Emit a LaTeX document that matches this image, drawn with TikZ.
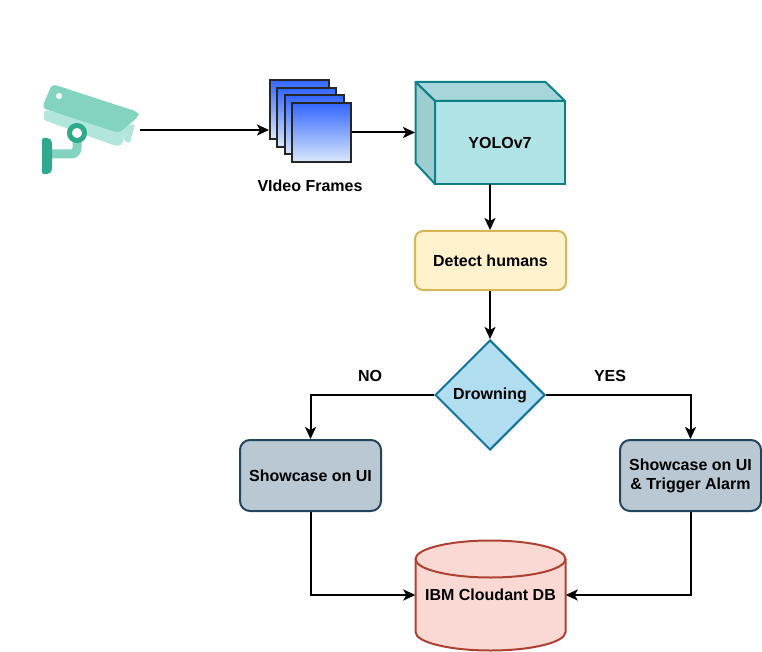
\documentclass[tikz,border=0pt]{standalone}
\usepackage{fontspec}
\setmainfont{Liberation Sans}
\usetikzlibrary{arrows.meta,shapes.geometric,positioning}
\definecolor{camlight}{HTML}{B2E5DB}
\definecolor{cammid}{HTML}{82D3C0}
\definecolor{camdark}{HTML}{2FA88C}
\definecolor{yolofill}{HTML}{B0E3E6}
\definecolor{yololine}{HTML}{0E8088}
\definecolor{yolotop}{HTML}{A6D6D9}
\definecolor{yololeft}{HTML}{9ECDD0}
\definecolor{detfill}{HTML}{FFF2CC}
\definecolor{detline}{HTML}{D6B656}
\definecolor{dimfill}{HTML}{B1DDF0}
\definecolor{dimline}{HTML}{10739E}
\definecolor{uifill}{HTML}{BAC8D3}
\definecolor{uiline}{HTML}{23445D}
\definecolor{dbfill}{HTML}{FAD9D5}
\definecolor{dbline}{HTML}{AE4132}
\definecolor{frtop}{HTML}{3366FF}
\definecolor{frbot}{HTML}{DAE8FC}
\tikzset{
  x=1pt,y=-1pt,
  lbl/.style={font=\fontsize{16}{19}\selectfont\bfseries,text=black,align=center,inner sep=0pt},
  uibox/.style={draw=uiline,fill=uifill,line width=2pt,rounded corners=10pt,minimum width=141pt,minimum height=71pt,inner sep=0pt,lbl},
  frame/.style={draw=black!85,line width=2pt,top color=frtop,bottom color=frbot,minimum width=59pt,minimum height=59pt,inner sep=0pt},
  conn/.style={draw=black,line width=2pt,-{Stealth[length=12pt,width=11pt,inset=3pt]}},
}
\begin{document}
\begin{tikzpicture}
\useasboundingbox (0,0) rectangle (762,652);
% camera
\fill[camlight,rounded corners=1.5pt] (124,126) -- (135,124) -- (130,143) -- (124,141) -- cycle;
\fill[camlight,rounded corners=3pt] (44,110) -- (43.5,120) -- (116,146) -- (122,145) -- (126,125) -- cycle;
\fill[cammid,rounded corners=4pt] (52,84) -- (138,112) -- (139,116) -- (119,133) -- (42,108) -- cycle;
\fill[white] (59,96) circle (3pt);
\draw[cammid,line width=9pt,rounded corners=6pt] (77,134) -- (77,154) -- (50,154);
\fill[camdark,rounded corners=2pt] (42,138) -- (49,138) -- (52,141) -- (52,171) -- (49,174) -- (42,174) -- cycle;
\draw[camdark,line width=5pt,fill=white] (77,133) circle (7.5pt);
\node[minimum width=98pt,minimum height=92pt,inner sep=0pt] (cam) at (90,128) {};
% video frames
\node[frame] (f1) at (299.5,109.5) {};
\node[frame] (f2) at (306.5,117.5) {};
\node[frame] (f3) at (314,125) {};
\node[frame] (f4) at (321.5,132.5) {};
\node[lbl] (vf) at (310,185.5) {VIdeo Frames};
% cube
\node[draw=yololine,fill=yolofill,line width=2pt,minimum width=130pt,minimum height=83pt,inner sep=0pt,lbl] (yolo) at (500,142.5) {YOLOv7};
\path[draw=yololine,fill=yolotop,line width=2pt,line join=round] (415.5,82) -- (545.5,82) -- (565,101) -- (435,101) -- cycle;
\path[draw=yololine,fill=yololeft,line width=2pt,line join=round] (415.5,82) -- (435,101) -- (435,184) -- (415.5,163) -- cycle;
\coordinate (yoloL) at (415,132.5);
\coordinate (yoloB) at (490,184);
% detect
\node[draw=detline,fill=detfill,line width=2pt,rounded corners=8pt,minimum width=151pt,minimum height=59pt,inner sep=0pt,lbl] (det) at (490.5,260.5) {Detect humans};
% diamond
\node[diamond,aspect=1,draw=dimline,fill=dimfill,line width=2pt,minimum width=110pt,minimum height=110pt,inner sep=0pt] (dr) at (490,395) {};
\node[lbl] (drt) at (490,395.5) {Drowning};
% ui
\node[uibox] (uil) at (310.5,475.5) {Showcase on UI};
\node[uibox] (uir) at (690.5,475.5) {Showcase on UI\\\&\ Trigger Alarm};
% db
\path[draw=dbline,fill=dbfill,line width=2pt] (415.5,559) -- (415.5,632) arc[start angle=180,end angle=360,x radius=75,y radius=-18.5] -- (565.5,559) arc[start angle=0,end angle=180,x radius=75,y radius=-18.5] -- cycle;
\path[draw=dbline,line width=2pt] (415.5,559) arc[start angle=180,end angle=360,x radius=75,y radius=-18.5];
\node[minimum width=150pt,minimum height=110pt,inner sep=0pt,lbl] (db) at (490.5,595) {IBM Cloudant DB};
% connectors
\coordinate (camR) at (140,130);
\draw[conn] (camR) -- (camR -| f1.west);
\draw[conn] (f4.east) -- (yoloL);
\draw[conn] (yoloB) -- (det.north -| yoloB);
\draw[conn] (det.south -| dr.north) -- (dr.north);
\draw[conn] (dr.west) -| (uil.north);
\draw[conn] (dr.east) -| (uir.north);
\draw[conn] (uil.south) |- (db.west);
\draw[conn] (uir.south) |- (db.east);
\node[lbl] (no) at (370,375.5) {NO};
\node[lbl] (yes) at (610,375.5) {YES};
\end{tikzpicture}
\end{document}
